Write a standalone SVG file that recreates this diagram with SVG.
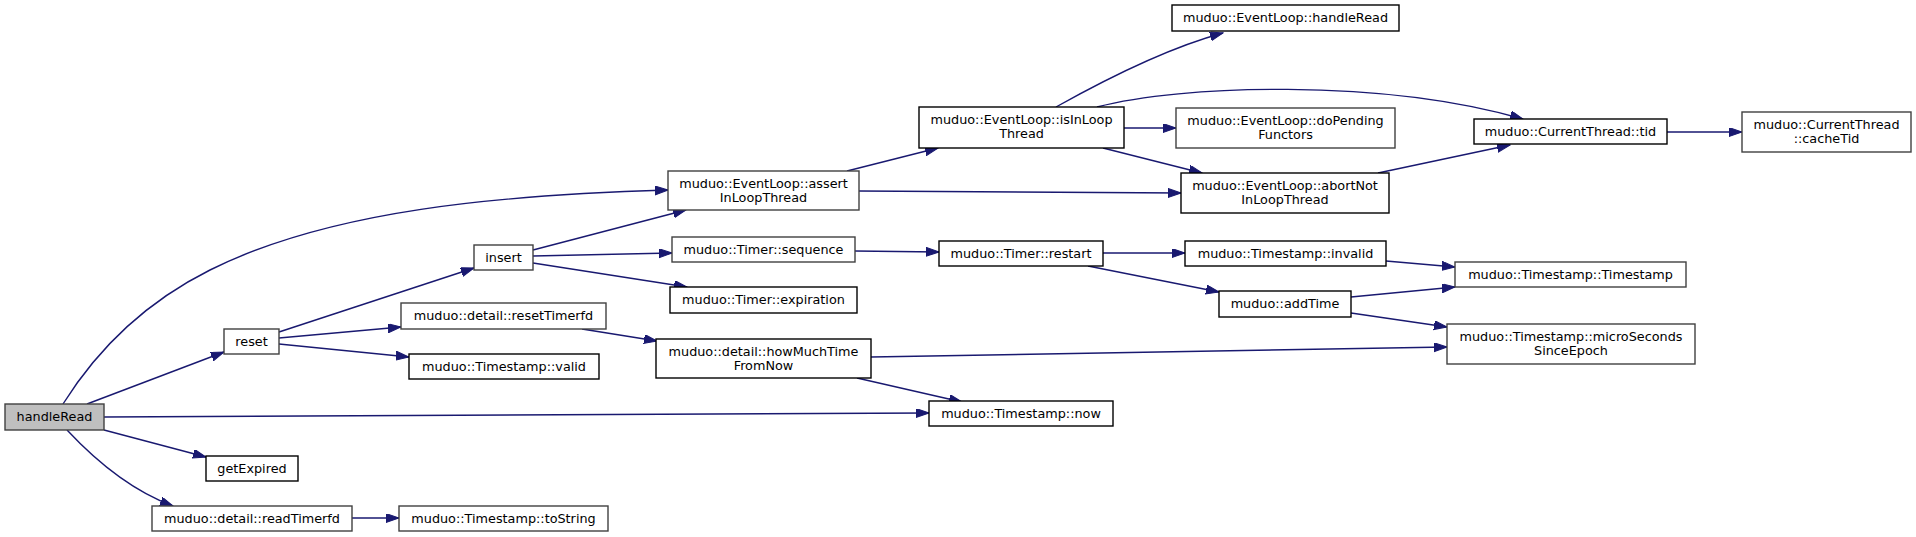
<svg xmlns="http://www.w3.org/2000/svg" width="1916" height="537" viewBox="0 0 1916 537">
<style>
.n rect{fill:#ffffff;stroke:#404040;stroke-width:1.4}
.n.k rect{stroke:#000000}
.n.root rect{fill:#bfbfbf;stroke:#404040}
.n text{font-family:"DejaVu Sans",sans-serif;font-size:12.8px;fill:#000000;text-anchor:middle}
#edges path{fill:none;stroke:#191970;stroke-width:1.4}
</style>
<defs>
<marker id="ah" markerUnits="userSpaceOnUse" markerWidth="14" markerHeight="10" refX="13" refY="4.5" orient="auto">
<path d="M0,0 L13,4.5 L0,9 z" fill="#191970" stroke="#191970" stroke-width="1"/>
</marker>
</defs>
<rect width="1916" height="537" fill="#ffffff"/>
<g id="edges">
<path marker-end="url(#ah)" d="M63,404 C100,345 150,300 210,270 C330,210 500,195 668,190"/>
<path marker-end="url(#ah)" d="M87,404 L224,352"/>
<path marker-end="url(#ah)" d="M104,417 L929,413"/>
<path marker-end="url(#ah)" d="M104,430 L206,457"/>
<path marker-end="url(#ah)" d="M67,430 C95,460 130,490 173,506"/>
<path marker-end="url(#ah)" d="M352,518 L399,518"/>
<path marker-end="url(#ah)" d="M279,332 L474,268"/>
<path marker-end="url(#ah)" d="M279,338 L401,327"/>
<path marker-end="url(#ah)" d="M279,344 L409,357"/>
<path marker-end="url(#ah)" d="M533,250 L686,210"/>
<path marker-end="url(#ah)" d="M533,256 L672,253"/>
<path marker-end="url(#ah)" d="M533,263 L687,287"/>
<path marker-end="url(#ah)" d="M582,329 L657,341"/>
<path marker-end="url(#ah)" d="M871,357 L1447,347"/>
<path marker-end="url(#ah)" d="M857,378 L962,402"/>
<path marker-end="url(#ah)" d="M855,251 L939,252"/>
<path marker-end="url(#ah)" d="M1103,253 L1185,253"/>
<path marker-end="url(#ah)" d="M1088,266 L1219,292"/>
<path marker-end="url(#ah)" d="M1386,261 L1455,267"/>
<path marker-end="url(#ah)" d="M1351,297 L1455,287"/>
<path marker-end="url(#ah)" d="M1351,313 L1447,327"/>
<path marker-end="url(#ah)" d="M847,171 L938,148"/>
<path marker-end="url(#ah)" d="M859,191 L1181,193"/>
<path marker-end="url(#ah)" d="M1056,107 C1090,88 1160,50 1223,33"/>
<path marker-end="url(#ah)" d="M1124,128 L1176,128"/>
<path marker-end="url(#ah)" d="M1103,148 L1202,173"/>
<path marker-end="url(#ah)" d="M1097,107 C1180,85 1380,78 1523,119"/>
<path marker-end="url(#ah)" d="M1378,173 L1510,145"/>
<path marker-end="url(#ah)" d="M1667,132 L1742,132"/>
</g>
<g id="n_handleRead" class="n root"><rect x="5" y="404" width="99" height="26"/><text x="54.5" y="421">handleRead</text></g>
<g id="n_reset" class="n"><rect x="224" y="329" width="55" height="25"/><text x="251.5" y="346">reset</text></g>
<g id="n_getExpired" class="n k"><rect x="206" y="456" width="92" height="25"/><text x="252" y="473">getExpired</text></g>
<g id="n_readTimerfd" class="n"><rect x="152" y="506" width="200" height="25"/><text x="252" y="523">muduo::detail::readTimerfd</text></g>
<g id="n_insert" class="n"><rect x="474" y="245" width="59" height="25"/><text x="503.5" y="262">insert</text></g>
<g id="n_resetTimerfd" class="n"><rect x="401" y="303" width="205" height="26"/><text x="503.5" y="320">muduo::detail::resetTimerfd</text></g>
<g id="n_valid" class="n k"><rect x="409" y="354" width="190" height="25"/><text x="504" y="371">muduo::Timestamp::valid</text></g>
<g id="n_toString" class="n"><rect x="399" y="506" width="209" height="25"/><text x="503.5" y="523">muduo::Timestamp::toString</text></g>
<g id="n_assert" class="n"><rect x="668" y="171" width="191" height="39"/><text x="763.5" y="188">muduo::EventLoop::assert</text><text x="763.5" y="202">InLoopThread</text></g>
<g id="n_sequence" class="n"><rect x="672" y="237" width="183" height="25"/><text x="763.5" y="254">muduo::Timer::sequence</text></g>
<g id="n_expiration" class="n k"><rect x="670" y="287" width="187" height="26"/><text x="763.5" y="304">muduo::Timer::expiration</text></g>
<g id="n_howMuchTime" class="n k"><rect x="656" y="339" width="215" height="39"/><text x="763.5" y="356">muduo::detail::howMuchTime</text><text x="763.5" y="370">FromNow</text></g>
<g id="n_now" class="n k"><rect x="929" y="401" width="184" height="25"/><text x="1021" y="418">muduo::Timestamp::now</text></g>
<g id="n_restart" class="n k"><rect x="939" y="241" width="164" height="25"/><text x="1021" y="258">muduo::Timer::restart</text></g>
<g id="n_isInLoop" class="n k"><rect x="919" y="107" width="205" height="41"/><text x="1021.5" y="124">muduo::EventLoop::isInLoop</text><text x="1021.5" y="138">Thread</text></g>
<g id="n_elHandleRead" class="n k"><rect x="1172" y="5" width="227" height="26"/><text x="1285.5" y="22">muduo::EventLoop::handleRead</text></g>
<g id="n_doPending" class="n"><rect x="1176" y="108" width="219" height="40"/><text x="1285.5" y="125">muduo::EventLoop::doPending</text><text x="1285.5" y="139">Functors</text></g>
<g id="n_abortNot" class="n k"><rect x="1181" y="173" width="208" height="40"/><text x="1285" y="190">muduo::EventLoop::abortNot</text><text x="1285" y="204">InLoopThread</text></g>
<g id="n_invalid" class="n k"><rect x="1185" y="241" width="201" height="25"/><text x="1285.5" y="258">muduo::Timestamp::invalid</text></g>
<g id="n_addTime" class="n k"><rect x="1219" y="291" width="132" height="26"/><text x="1285" y="308">muduo::addTime</text></g>
<g id="n_tid" class="n k"><rect x="1474" y="119" width="193" height="25"/><text x="1570.5" y="136">muduo::CurrentThread::tid</text></g>
<g id="n_Timestamp" class="n"><rect x="1455" y="262" width="231" height="25"/><text x="1570.5" y="279">muduo::Timestamp::Timestamp</text></g>
<g id="n_microSeconds" class="n"><rect x="1447" y="324" width="248" height="40"/><text x="1571" y="341">muduo::Timestamp::microSeconds</text><text x="1571" y="355">SinceEpoch</text></g>
<g id="n_cacheTid" class="n"><rect x="1742" y="112" width="169" height="40"/><text x="1826.5" y="129">muduo::CurrentThread</text><text x="1826.5" y="143">::cacheTid</text></g>
</svg>
